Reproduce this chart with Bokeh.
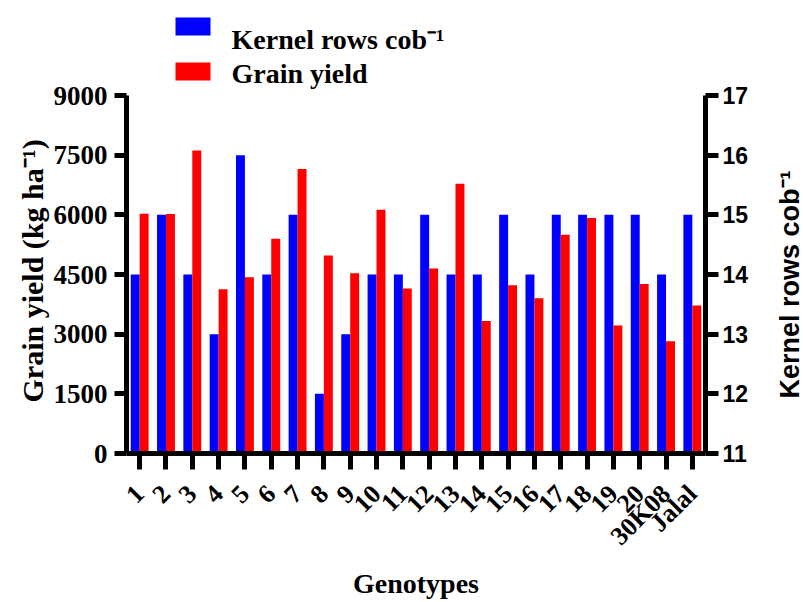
import math
from bokeh.plotting import figure
from bokeh.layouts import row
from bokeh.models import (Range1d, FactorRange, LinearAxis, FixedTicker, Label,
                          BoxAnnotation, ColumnDataSource, Title)
from bokeh.transform import dodge
from bokeh.core.properties import value
from bokeh.embed import file_html
from bokeh.resources import INLINE

# ---------------- data ----------------
genotypes = ["1", "2", "3", "4", "5", "6", "7", "8", "9", "10", "11", "12", "13",
             "14", "15", "16", "17", "18", "19", "20", "30K08", "Jalal"]
kernel_rows = [14, 15, 14, 13, 16, 14, 15, 12, 13, 14, 14, 15, 14, 14, 15, 14,
               15, 15, 15, 15, 14, 15]
grain_yield = [6030, 6020, 7620, 4130, 4430, 5400, 7150, 4980, 4530, 6130, 4150,
               4650, 6780, 3330, 4230, 3900, 5500, 5920, 3220, 4260, 2820, 3720]
left_ticks = [0, 1500, 3000, 4500, 6000, 7500, 9000]
right_ticks = [11, 12, 13, 14, 15, 16, 17]
series_names = ["Kernel rows cob\u207b\u00b9", "Grain yield"]
axis_titles = ["Grain yield (kg ha\u207b\u00b9)", "Kernel rows cob\u207b\u00b9", "Genotypes"]

SERIF = "Liberation Serif"
SANS = "Liberation Sans"
BLUE = "#0000FF"
RED = "#FF0000"

# ---- layout geometry (canvas pixels)
W, H = 803, 602
MAIN_W = 760                 # main figure width; a narrow strip on the right holds the title
FX0, FX1 = 126, 705          # axis lines left / right
FY0, FY1 = 95, 453           # top of value axes / baseline
TOP = 5                      # frame top (frame extended upward to host legend)
L0, L1 = left_ticks[0], left_ticks[-1]
R0, R1 = right_ticks[0], right_ticks[-1]
ytop_left = L0 + (L1 - L0) * (FY1 - TOP) / (FY1 - FY0)
ytop_right = R0 + (R1 - R0) * (FY1 - TOP) / (FY1 - FY0)

src = ColumnDataSource(dict(g=genotypes, kr=kernel_rows, gy=grain_yield))

p = figure(width=MAIN_W, height=H, x_range=FactorRange(factors=genotypes),
           y_range=Range1d(L0, ytop_left), output_backend="svg", toolbar_location=None,
           tools="", min_border_left=FX0, min_border_right=MAIN_W - FX1, min_border_top=TOP,
           min_border_bottom=H - FY1)
p.extra_y_ranges = {"right": Range1d(R0, ytop_right)}
p.outline_line_color = None
p.xgrid.visible = False
p.ygrid.visible = False
p.background_fill_color = "white"
p.border_fill_color = "white"

p.vbar(x=dodge("g", -0.17, range=p.x_range), top="kr", bottom=R0, width=0.34,
       source=src, y_range_name="right", fill_color=BLUE, line_color=None)
p.vbar(x=dodge("g", 0.17, range=p.x_range), top="gy", bottom=L0, width=0.34,
       source=src, fill_color=RED, line_color=None)

rax = LinearAxis(y_range_name="right", ticker=FixedTicker(ticks=right_ticks),
                 bounds=(R0, R1))
p.add_layout(rax, "right")

yax = p.yaxis[0]
yax.ticker = FixedTicker(ticks=left_ticks)
yax.bounds = (L0, L1)
xax = p.xaxis[0]

for ax in (xax, yax, rax):
    ax.axis_line_width = 5
    ax.axis_line_color = "black"
    ax.major_tick_line_width = 5
    ax.major_tick_line_color = "black"
    ax.major_tick_in = 0
    ax.minor_tick_line_color = None
    ax.major_label_text_color = "black"
    ax.major_label_text_font_style = "bold"

yax.major_tick_out = 12
yax.major_label_text_font = SERIF
yax.major_label_text_font_size = "27px"
yax.major_label_standoff = 7

rax.major_tick_out = 13
rax.major_label_text_font = SANS
rax.major_label_text_font_size = "23px"
rax.major_label_standoff = 4

xax.major_tick_out = 16
xax.major_label_orientation = math.pi / 4
xax.major_label_text_font = SERIF
xax.major_label_text_font_size = "26px"
xax.major_label_standoff = 20
xax.axis_label = axis_titles[2]
xax.axis_label_text_font = SERIF
xax.axis_label_text_font_style = "bold"
xax.axis_label_text_font_size = "28px"
xax.axis_label_text_color = "black"
xax.axis_label_standoff = 4

p.add_layout(Title(text=axis_titles[0], align="left", offset=51, standoff=3,
                   text_font=SERIF, text_font_style="bold", text_font_size="30px",
                   text_color="black"), "left")

# ---- canvas pixel -> data coordinate helpers
def dx(px):
    return (px - FX0) / (FX1 - FX0) * len(genotypes)
def dy(py):
    return L0 + (FY1 - py) / (FY1 - FY0) * (L1 - L0)

# legend (inside the extended frame, above the value axes)
for (top, bot, base), name, col in zip([(17, 35, 39), (62, 80, 73)], series_names, [BLUE, RED]):
    p.add_layout(BoxAnnotation(left=dx(175), right=dx(210), top=dy(top), bottom=dy(bot),
                               fill_color=col, fill_alpha=1.0, line_color=None))
    p.add_layout(Label(x=dx(231), y=dy(base), text=name, text_align="left",
                       text_baseline="alphabetic", text_font=SERIF, text_font_style="bold",
                       text_font_size="28px", text_color="black"))

# ---- narrow strip at the right that holds the right-axis title (reads bottom-to-top)
# its frame shares the main frame's vertical extent; data y = H - canvas y
SW = W - MAIN_W
s = figure(width=SW, height=H, x_range=Range1d(0, SW), y_range=Range1d(H - FY1, H - TOP),
           output_backend="svg", toolbar_location=None, tools="", min_border_left=0,
           min_border_right=0, min_border_top=TOP, min_border_bottom=H - FY1,
           x_axis_location=None, y_axis_location=None)
s.outline_line_color = None
s.xgrid.visible = False
s.ygrid.visible = False
s.background_fill_color = "white"
s.border_fill_color = "white"
s.text(x=[789 - MAIN_W], y=[H - 398], text=[axis_titles[1]], angle=math.pi / 2,
       text_align="left", text_baseline="middle", text_font=value(SANS),
       text_font_style="bold", text_font_size="27px", text_color="black")

layout = row(p, s, spacing=0)
open("out.html", "w").write(file_html(layout, INLINE))
